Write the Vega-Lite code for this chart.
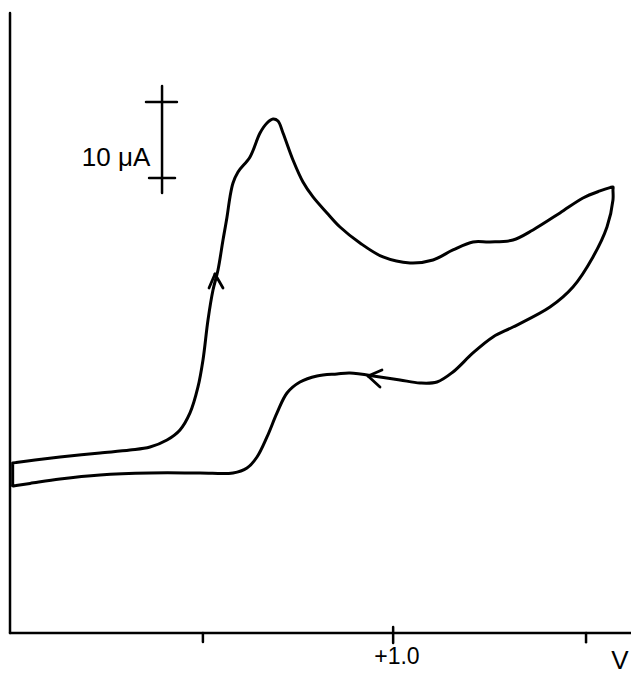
{
  "$schema": "https://vega.github.io/schema/vega-lite/v6.json",
  "width": 631,
  "height": 674,
  "padding": 0,
  "autosize": {"type": "none"},
  "background": "white",
  "config": {"view": {"stroke": null}},
  "layer": [
    {
      "data": {"values": [
        {"n": 1, "v": 0.0070, "i": 21.79},
        {"n": 2, "v": 0.0160, "i": 21.85},
        {"n": 3, "v": 0.0654, "i": 22.18},
        {"n": 4, "v": 0.1309, "i": 22.56},
        {"n": 5, "v": 0.2356, "i": 23.08},
        {"n": 6, "v": 0.3141, "i": 23.46},
        {"n": 7, "v": 0.3665, "i": 23.85},
        {"n": 8, "v": 0.4110, "i": 24.74},
        {"n": 9, "v": 0.4450, "i": 26.03},
        {"n": 10, "v": 0.4712, "i": 28.21},
        {"n": 11, "v": 0.4921, "i": 31.54},
        {"n": 12, "v": 0.5052, "i": 35.00},
        {"n": 13, "v": 0.5183, "i": 40.13},
        {"n": 14, "v": 0.5314, "i": 43.97},
        {"n": 15, "v": 0.5445, "i": 46.54},
        {"n": 16, "v": 0.5576, "i": 50.38},
        {"n": 17, "v": 0.5681, "i": 53.33},
        {"n": 18, "v": 0.5759, "i": 55.90},
        {"n": 19, "v": 0.5838, "i": 57.69},
        {"n": 20, "v": 0.5969, "i": 59.10},
        {"n": 21, "v": 0.6283, "i": 61.03},
        {"n": 22, "v": 0.6545, "i": 64.10},
        {"n": 23, "v": 0.6728, "i": 65.38},
        {"n": 24, "v": 0.6885, "i": 65.90},
        {"n": 25, "v": 0.7016, "i": 65.64},
        {"n": 26, "v": 0.7147, "i": 64.10},
        {"n": 27, "v": 0.7408, "i": 60.64},
        {"n": 28, "v": 0.7670, "i": 57.82},
        {"n": 29, "v": 0.7932, "i": 55.90},
        {"n": 30, "v": 0.8298, "i": 53.85},
        {"n": 31, "v": 0.8639, "i": 52.05},
        {"n": 32, "v": 0.9162, "i": 50.00},
        {"n": 33, "v": 0.9764, "i": 48.21},
        {"n": 34, "v": 1.0471, "i": 47.44},
        {"n": 35, "v": 1.1073, "i": 47.82},
        {"n": 36, "v": 1.1597, "i": 49.10},
        {"n": 37, "v": 1.2120, "i": 50.13},
        {"n": 38, "v": 1.2565, "i": 50.13},
        {"n": 39, "v": 1.3168, "i": 50.38},
        {"n": 40, "v": 1.3691, "i": 51.67},
        {"n": 41, "v": 1.4398, "i": 53.85},
        {"n": 42, "v": 1.5000, "i": 55.77},
        {"n": 43, "v": 1.5445, "i": 56.67},
        {"n": 44, "v": 1.5707, "i": 57.09},
        {"n": 45, "v": 1.5785, "i": 57.18},
        {"n": 46, "v": 1.5785, "i": 56.79},
        {"n": 47, "v": 1.5785, "i": 55.51},
        {"n": 48, "v": 1.5628, "i": 52.05},
        {"n": 49, "v": 1.5262, "i": 48.21},
        {"n": 50, "v": 1.4738, "i": 44.36},
        {"n": 51, "v": 1.4136, "i": 41.79},
        {"n": 52, "v": 1.3168, "i": 39.23},
        {"n": 53, "v": 1.2644, "i": 37.95},
        {"n": 54, "v": 1.2120, "i": 35.90},
        {"n": 55, "v": 1.1597, "i": 33.46},
        {"n": 56, "v": 1.1178, "i": 32.18},
        {"n": 57, "v": 1.0733, "i": 32.05},
        {"n": 58, "v": 1.0209, "i": 32.44},
        {"n": 59, "v": 0.9686, "i": 32.82},
        {"n": 60, "v": 0.8901, "i": 33.33},
        {"n": 61, "v": 0.8560, "i": 33.21},
        {"n": 62, "v": 0.8037, "i": 32.95},
        {"n": 63, "v": 0.7592, "i": 32.18},
        {"n": 64, "v": 0.7251, "i": 30.77},
        {"n": 65, "v": 0.6990, "i": 28.21},
        {"n": 66, "v": 0.6728, "i": 25.13},
        {"n": 67, "v": 0.6466, "i": 22.56},
        {"n": 68, "v": 0.6204, "i": 21.15},
        {"n": 69, "v": 0.5838, "i": 20.51},
        {"n": 70, "v": 0.4974, "i": 20.51},
        {"n": 71, "v": 0.3665, "i": 20.51},
        {"n": 72, "v": 0.2356, "i": 20.26},
        {"n": 73, "v": 0.1309, "i": 19.74},
        {"n": 74, "v": 0.0524, "i": 19.17},
        {"n": 75, "v": 0.0160, "i": 18.91},
        {"n": 76, "v": 0.0070, "i": 18.85},
        {"n": 77, "v": 0.0070, "i": 19.10},
        {"n": 78, "v": 0.0070, "i": 21.54},
        {"n": 79, "v": 0.0070, "i": 21.79}
      ]},
      "mark": {"type": "line", "color": "black", "strokeWidth": 3, "interpolate": "catmull-rom", "strokeJoin": "round", "strokeCap": "round"},
      "encoding": {
        "x": {"field": "v", "type": "quantitative", "scale": {"domain": [-0.0262, 1.6257], "nice": false, "zero": false}, "axis": null},
        "y": {"field": "i", "type": "quantitative", "scale": {"domain": [-5.26, 81.15], "nice": false, "zero": false}, "axis": null},
        "order": {"field": "n", "type": "quantitative"}
      }
    },
    {
      "data": {"values": [
        {"part": "y axis", "v": 0.0, "v2": 0.0, "i": 79.49, "i2": 0.0, "w": 2.5},
        {"part": "x axis", "v": 0.0, "v2": 1.6257, "i": 0.0, "i2": 0.0, "w": 2.5},
        {"part": "tick 0.5", "v": 0.505, "v2": 0.505, "i": 0.0, "i2": -1.15, "w": 2.5},
        {"part": "tick 1.0", "v": 1.003, "v2": 1.003, "i": 0.77, "i2": -1.28, "w": 2.5},
        {"part": "tick 1.5", "v": 1.508, "v2": 1.508, "i": 0.0, "i2": -1.2, "w": 2.5},
        {"part": "bar", "v": 0.398, "v2": 0.398, "i": 70.13, "i2": 56.41, "w": 2.5},
        {"part": "bar top", "v": 0.356, "v2": 0.437, "i": 68.08, "i2": 68.08, "w": 2.5},
        {"part": "bar bottom", "v": 0.364, "v2": 0.432, "i": 58.33, "i2": 58.33, "w": 2.5},
        {"part": "arrow up a", "v": 0.5366, "v2": 0.521, "i": 46.03, "i2": 44.23, "w": 2.8},
        {"part": "arrow up b", "v": 0.5366, "v2": 0.5576, "i": 46.03, "i2": 44.23, "w": 2.8},
        {"part": "arrow left a", "v": 0.9372, "v2": 0.9738, "i": 32.95, "i2": 33.72, "w": 2.8},
        {"part": "arrow left b", "v": 0.9372, "v2": 0.9686, "i": 32.95, "i2": 31.54, "w": 2.8}
      ]},
      "mark": {"type": "rule", "color": "black", "strokeCap": "round"},
      "encoding": {
        "x": {"field": "v", "type": "quantitative"},
        "x2": {"field": "v2"},
        "y": {"field": "i", "type": "quantitative"},
        "y2": {"field": "i2"},
        "strokeWidth": {"field": "w", "type": "quantitative", "scale": null}
      }
    },
    {
      "data": {"values": [
        {"label": "10 μA", "v": 0.2775, "i": 60.9, "s": 26, "wt": "normal"},
        {"label": "+1.0", "v": 1.013, "i": -3.08, "s": 23, "wt": "bold"},
        {"label": "V", "v": 1.597, "i": -3.6, "s": 26, "wt": "normal"}
      ]},
      "mark": {"type": "text", "color": "black", "font": "Liberation Sans", "baseline": "middle", "align": "center"},
      "encoding": {
        "x": {"field": "v", "type": "quantitative"},
        "y": {"field": "i", "type": "quantitative"},
        "text": {"field": "label"},
        "size": {"field": "s", "type": "quantitative", "scale": null},
        "fontWeight": {"field": "wt", "type": "nominal", "scale": null}
      }
    }
  ]
}
